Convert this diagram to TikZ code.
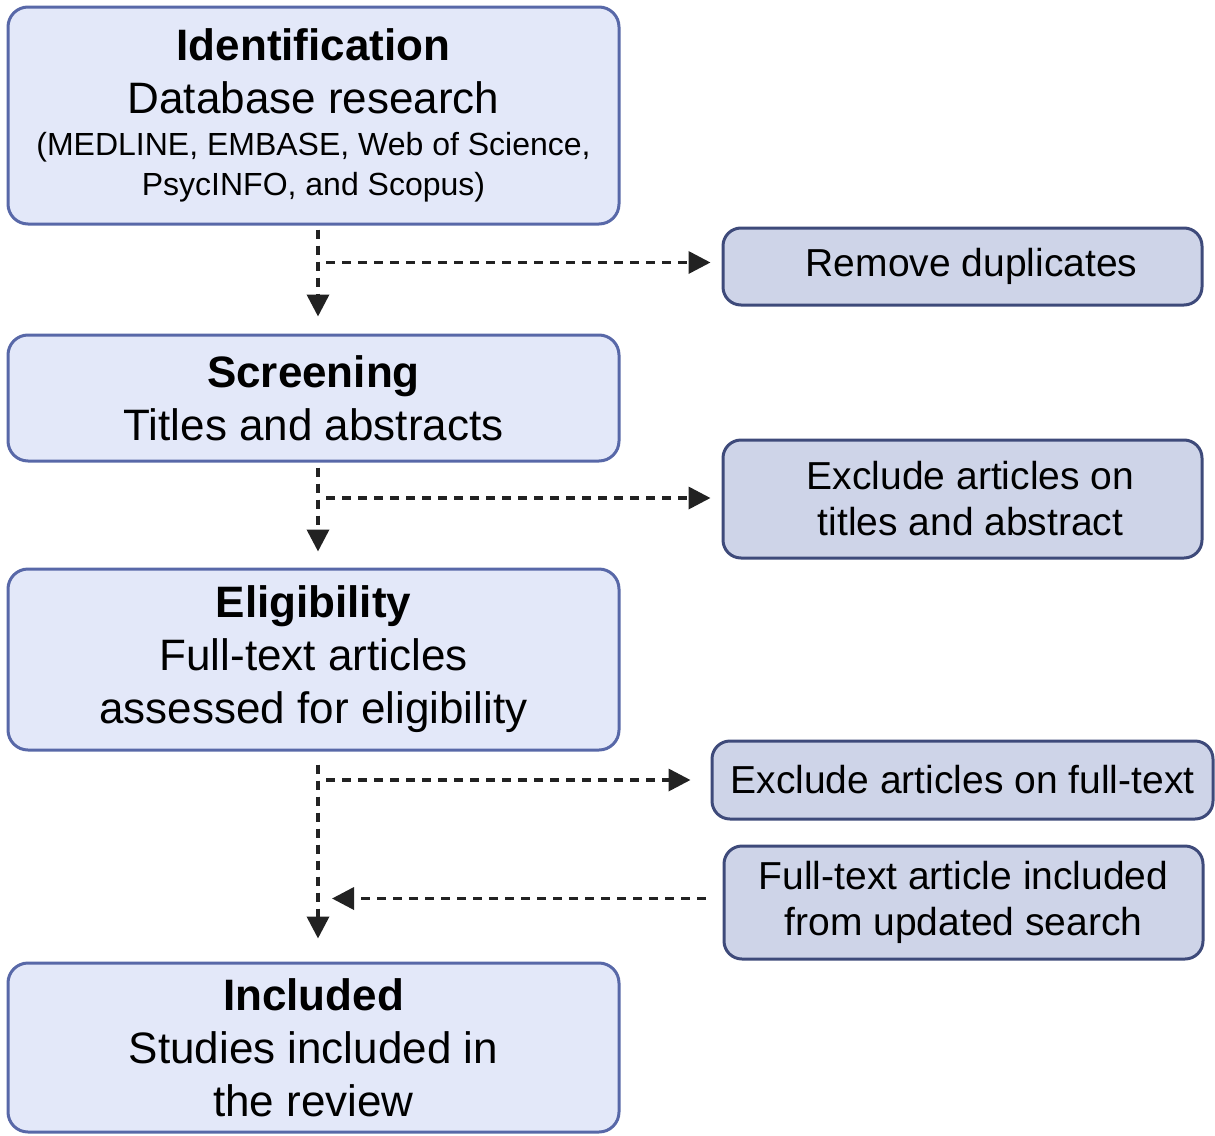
\documentclass[tikz,border=0pt]{standalone}
\usepackage{fontspec}
\setmainfont{Liberation Sans}
\usetikzlibrary{arrows.meta,calc}

\definecolor{stagefill}{RGB}{227,232,249}
\definecolor{stageline}{RGB}{88,104,168}
\definecolor{sidefill}{RGB}{206,212,232}
\definecolor{sideline}{RGB}{62,74,122}
\definecolor{flowcol}{RGB}{34,34,34}

\tikzset{
  stage/.style={draw=stageline, fill=stagefill, line width=1.5pt,
    rounded corners=10pt, align=center, inner sep=0pt,
    font=\fontsize{22}{26.5}\selectfont, minimum width=305.5pt},
  side/.style={draw=sideline, fill=sidefill, line width=1.5pt,
    rounded corners=9pt, align=center, inner sep=0pt,
    font=\fontsize{19.5}{23}\selectfont},
  flow/.style={draw=flowcol, line width=1.8pt, dash pattern=on 4.5pt off 3.5pt,
    -{Triangle[width=11pt,length=11pt]}}
}

\begin{document}
\begin{tikzpicture}[x=0.5pt,y=-0.5pt]
  \useasboundingbox (0,0) rectangle (1215,1135);

  % main stages
  \node[stage, minimum height=108.5pt] (ident) at (313.5,115.5)
    {\textbf{Identification}\\ Database research\\[-5.5pt]
     {\fontsize{16}{20}\selectfont (MEDLINE, EMBASE, Web of Science,}\\[-6.5pt]
     {\fontsize{16}{20}\selectfont PsycINFO, and Scopus)}};
  \node[stage, minimum height=63pt] (screen) at (313.5,398)
    {\textbf{Screening}\\ Titles and abstracts};
  \node[stage, minimum height=90.5pt] (elig) at (313.5,659.5)
    {\textbf{Eligibility}\\ Full-text articles\\ assessed for eligibility};
  \node[stage, minimum height=84.5pt] (incl) at (313.5,1047.5)
    {\textbf{Included}\\ Studies included in\\ the review};

  % side boxes
  \node[side, minimum width=239.5pt, minimum height=38.5pt] (dup) at (962.5,266.5)
    {\hspace*{9pt}Remove duplicates};
  \node[side, minimum width=239.5pt, minimum height=59pt] (extitle) at (962.5,499)
    {\hspace*{8pt}Exclude articles on\\ \hspace*{8pt}titles and abstract};
  \node[side, minimum width=250.5pt, minimum height=39pt] (exfull) at (962.5,780)
    {Exclude articles on full-text};
  \node[side, minimum width=239.5pt, minimum height=56.5pt] (update) at (963.5,902.5)
    {Full-text article included\\ from updated search};

  % vertical flow line
  \coordinate (spine) at (318,0);

  \draw[flow] ($(ident.south -| spine)+(0,4)$) -- ($(screen.north -| spine)+(0,-17)$);
  \draw[flow] ($(dup.west -| spine)+(8,-4)$) -- ($(dup.west)+(-11,-4)$);

  \draw[flow] ($(screen.south -| spine)+(0,5)$) -- ($(elig.north -| spine)+(0,-16)$);
  \draw[flow] ($(extitle.west -| spine)+(8,-1)$) -- ($(extitle.west)+(-11,-1)$);

  \draw[flow] ($(elig.south -| spine)+(0,13)$) -- ($(incl.north -| spine)+(0,-23)$);
  \draw[flow] ($(exfull.west -| spine)+(8,0)$) -- ($(exfull.west)+(-20,0)$);
  \draw[flow] ($(update.west)+(-17,-4)$) -- ($(update.west -| spine)+(14,-4)$);
\end{tikzpicture}
\end{document}
